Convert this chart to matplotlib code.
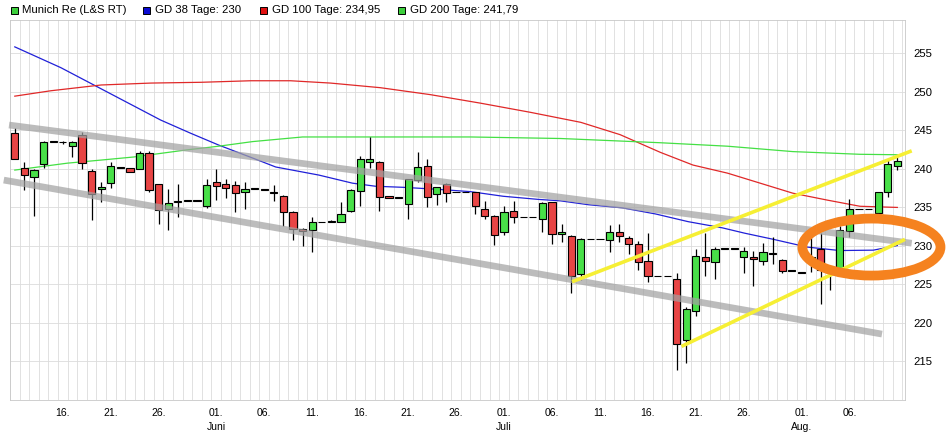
import numpy as np
import matplotlib.pyplot as plt
from matplotlib.patches import Ellipse, Rectangle
import datetime

plt.rcParams['font.family'] = ['Liberation Sans', 'DejaVu Sans']

# daily candles (L&S also trades on weekends), first day 11.05.2021
start = datetime.date(2021, 5, 11)
opens = [244.6, 240.1, 238.9, 240.6, 243.5, 243.4, 242.9, 244.3, 239.7, 237.3,
         238.1, 240.1, 240.1, 239.9, 242.0, 238.0, 234.8, 235.6, 235.8, 235.8,
         235.1, 238.3, 238.0, 237.8, 236.9, 237.4, 237.4, 236.9, 236.4, 234.3,
         232.2, 232.0, 233.0, 233.1, 233.1, 234.5, 237.1, 240.8, 240.9, 236.4,
         236.2, 235.4, 238.5, 240.3, 236.7, 238.0, 236.9, 236.9, 236.9, 234.7,
         233.9, 231.7, 234.5, 233.7, 233.7, 233.4, 235.6, 231.5, 231.3, 226.3,
         230.8, 230.8, 230.7, 231.8, 231.0, 230.2, 228.0, 226.0, 226.0, 225.6,
         217.7, 221.5, 228.55, 227.9, 229.6, 229.6, 228.5, 228.55, 228.0, 229.0,
         228.1, 226.7, 226.6, 227.9, 229.55, 227.0, 226.8, 231.9, 234.7, 234.7,
         234.2, 236.9, 240.3]
highs = [245.2, 240.9, 240.0, 243.6, 243.5, 243.6, 243.6, 244.7, 239.9, 238.3,
         240.9, 240.1, 240.1, 242.3, 242.3, 238.0, 237.4, 238.0, 235.8, 235.8,
         238.7, 239.9, 238.6, 238.4, 238.2, 237.4, 237.4, 237.9, 236.6, 234.5,
         232.3, 233.7, 233.0, 233.3, 235.7, 237.3, 241.6, 244.1, 241.0, 236.4,
         236.2, 238.6, 242.1, 241.3, 237.6, 238.1, 236.9, 236.9, 237.0, 235.8,
         234.0, 235.1, 235.8, 233.7, 233.7, 235.6, 235.7, 232.8, 231.4, 231.0,
         230.8, 230.8, 232.7, 232.8, 231.2, 230.6, 231.6, 226.0, 226.0, 226.4,
         222.0, 229.6, 231.6, 229.8, 229.6, 229.6, 229.8, 229.3, 230.3, 231.1,
         228.2, 226.7, 226.6, 231.1, 231.6, 227.3, 232.5, 236.1, 234.7, 234.7,
         237.0, 241.1, 241.6]
lows = [241.2, 237.2, 233.9, 240.1, 243.5, 243.2, 241.5, 240.0, 233.3, 235.7,
        237.5, 240.1, 239.5, 239.9, 236.9, 232.8, 232.0, 233.7, 235.8, 235.8,
        234.9, 235.9, 236.2, 234.4, 234.7, 237.4, 237.2, 235.8, 232.5, 230.7,
        230.0, 229.1, 233.0, 233.0, 233.0, 234.4, 235.1, 240.1, 234.5, 236.2,
        236.2, 233.5, 238.3, 235.0, 235.3, 235.6, 236.9, 236.9, 234.1, 233.4,
        230.1, 231.4, 232.9, 233.7, 233.7, 231.7, 230.2, 230.5, 223.8, 225.5,
        230.8, 230.8, 229.2, 230.5, 228.9, 226.8, 225.3, 226.0, 226.0, 213.9,
        214.8, 220.8, 226.0, 225.7, 229.6, 229.6, 226.4, 224.7, 227.5, 227.6,
        226.4, 226.7, 226.4, 226.6, 222.4, 224.2, 226.5, 231.1, 234.7, 234.7,
        234.1, 236.3, 239.8]
closes = [241.3, 239.2, 239.8, 243.5, 243.5, 243.4, 243.5, 240.7, 236.7, 237.6,
          240.3, 240.1, 239.5, 242.0, 237.2, 234.6, 235.5, 235.8, 235.8, 235.8,
          237.8, 237.7, 237.5, 236.8, 237.4, 237.4, 237.2, 236.85, 234.3, 232.1,
          231.9, 233.0, 233.0, 233.1, 234.1, 237.2, 241.2, 241.2, 236.3, 236.2,
          236.2, 238.6, 240.2, 236.3, 237.6, 236.8, 236.9, 236.9, 235.1, 233.8,
          231.4, 234.4, 233.7, 233.7, 233.7, 235.5, 231.5, 231.7, 226.0, 230.8,
          230.8, 230.8, 231.8, 231.2, 230.2, 227.9, 226.0, 226.0, 226.0, 217.2,
          221.8, 228.7, 227.95, 229.6, 229.6, 229.6, 229.3, 228.2, 229.1, 228.85,
          226.7, 226.7, 226.4, 228.5, 226.8, 226.9, 232.0, 234.7, 234.7, 234.7,
          236.9, 240.55, 241.0]

# moving averages read at selected days (day index from start)
gd38_days = [0, 4.8, 10, 15.2, 18.3, 21.25, 24.8, 27.2, 31.7, 35.2, 37.6, 40.5,
             44.1, 47.5, 50.9, 54.5, 56.9, 59.8, 63.3, 66.8, 70.2, 73.75, 76.1,
             79.1, 82.6, 86.0, 89.5, 92]
gd38 = [255.8, 253.1, 249.7, 246.3, 244.6, 243.05, 241.36, 240.2, 239.15, 238.1,
        237.7, 237.56, 237.3, 237.0, 236.4, 236.0, 235.8, 235.3, 234.9, 234.1,
        233.1, 232.3, 231.6, 230.8, 229.8, 229.35, 229.4, 230.0]
gd100_days = [0, 3.75, 9, 14.2, 19.4, 24.6, 28.75, 32.9, 38.1, 43.3, 48.5, 53.75,
              59, 63.1, 67.3, 70.7, 74.3, 77.7, 81.1, 84.7, 88.1, 92]
gd100 = [249.4, 250.1, 250.85, 251.1, 251.2, 251.4, 251.4, 251.1, 250.5, 249.6,
         248.5, 247.3, 246.0, 244.4, 242.1, 240.45, 239.4, 238.1, 236.8, 235.9,
         235.1, 234.95]
gd200_days = [0, 5.5, 9, 12.4, 17.8, 21.25, 24.8, 30, 37.6, 47.5, 56.9, 67.3,
              74.3, 81.1, 88.1, 92]
gd200 = [239.8, 240.7, 241.1, 241.5, 242.4, 242.9, 243.5, 244.1, 244.1, 244.1,
         243.9, 243.35, 242.9, 242.2, 241.85, 241.79]

# hand drawn trend lines (day index, price)
channel_top_x = [-0.6, 93.5]
channel_top_y = [245.65, 230.3]
channel_bot_x = [-1.15, 90.4]
channel_bot_y = [238.5, 218.5]
wedge_top_x = [58.1, 93.5]
wedge_top_y = [225.3, 242.3]
wedge_bot_x = [69.5, 92.8]
wedge_bot_y = [216.9, 230.8]
circle_center = (89.3, 229.8)
circle_size = (14.4, 7.4)

tick_dates = ["2021-05-16", "2021-05-21", "2021-05-26", "2021-06-01", "2021-06-06",
              "2021-06-11", "2021-06-16", "2021-06-21", "2021-06-26", "2021-07-01",
              "2021-07-06", "2021-07-11", "2021-07-16", "2021-07-21", "2021-07-26",
              "2021-08-01", "2021-08-06"]
tick_labels = ["16.", "21.", "26.", "01.\nJuni", "06.", "11.", "16.", "21.", "26.",
               "01.\nJuli", "06.", "11.", "16.", "21.", "26.", "01.\nAug.", "06."]
y_ticks = [215, 220, 225, 230, 235, 240, 245, 250, 255]

legend_labels = ["Munich Re (L&S RT)", "GD 38 Tage: 230", "GD 100 Tage: 234,95",
                 "GD 200 Tage: 241,79"]
legend_colors = ["#3ccf3c", "#0a0ad2", "#e01010", "#3ccf3c"]

W, H = 950, 437
fig = plt.figure(figsize=(W / 100, H / 100), dpi=100)
ax = fig.add_axes([10 / W, 1 - 400 / H, 895 / W, 380 / H])

o = np.array(opens)
c = np.array(closes)
days = np.arange(len(opens))

ax.plot(gd38_days, gd38, color="#2020d8", lw=0.9, zorder=2)
ax.plot(gd100_days, gd100, color="#e02828", lw=0.9, zorder=2)
ax.plot(gd200_days, gd200, color="#44e044", lw=0.9, zorder=2)

ax.vlines(days, lows, highs, color="black", lw=0.9, zorder=3)
cols = np.where(c >= o, "#48e048", "#e84545")
ax.bar(days, np.maximum(np.abs(c - o), 0.07), bottom=np.minimum(o, c), width=0.75,
       color=cols, edgecolor="black", linewidth=0.8, zorder=4)

gray = dict(color="#a2a2a2", lw=4.8, alpha=0.72, solid_capstyle="butt", zorder=6, clip_on=False)
ax.plot(channel_top_x, channel_top_y, **gray)
ax.plot(channel_bot_x, channel_bot_y, **gray)
yel = dict(color="#f6ef34", lw=2.6, solid_capstyle="butt", zorder=7, clip_on=False)
ax.plot(wedge_top_x, wedge_top_y, **yel)
ax.plot(wedge_bot_x, wedge_bot_y, **yel)
ax.add_patch(Ellipse(circle_center, circle_size[0], circle_size[1], fill=False,
                     edgecolor="#f5821f", lw=7, zorder=8, clip_on=False))

ax.set_xlim(-0.45, 92.8)
ax.set_ylim(209.94, 259.29)

tick_pos = [(datetime.date.fromisoformat(t) - start).days for t in tick_dates]
ax.set_xticks(tick_pos)
ax.set_xticklabels(tick_labels, fontsize=7.5, linespacing=1.5)
ax.set_xticks(np.arange(-0.5, 93, 1), minor=True)
ax.tick_params(axis="x", which="both", length=0, pad=6)

ax.yaxis.tick_right()
ax.set_yticks(y_ticks)
ax.set_yticklabels([str(v) for v in y_ticks], fontsize=8.2)
ax.tick_params(axis="y", length=0, pad=6)

ax.grid(which="minor", axis="x", color="#dcdcdc", lw=0.6)
ax.grid(which="major", axis="y", color="#dcdcdc", lw=0.6)
ax.set_axisbelow(True)
for s in ax.spines.values():
    s.set_color("#c8c8c8")
    s.set_linewidth(0.6)

lx = [11, 143, 260, 398]
tx = [22, 155, 272, 410]
for i in range(len(legend_labels)):
    fig.add_artist(Rectangle((lx[i] / W, 1 - 13.5 / H), 7 / W, 7 / H, transform=fig.transFigure,
                             facecolor=legend_colors[i], edgecolor="black", lw=0.7))
    fig.text(tx[i] / W, 1 - 10 / H, legend_labels[i], fontsize=8.2, va="center", ha="left")

fig.savefig("out.png", dpi=100)
